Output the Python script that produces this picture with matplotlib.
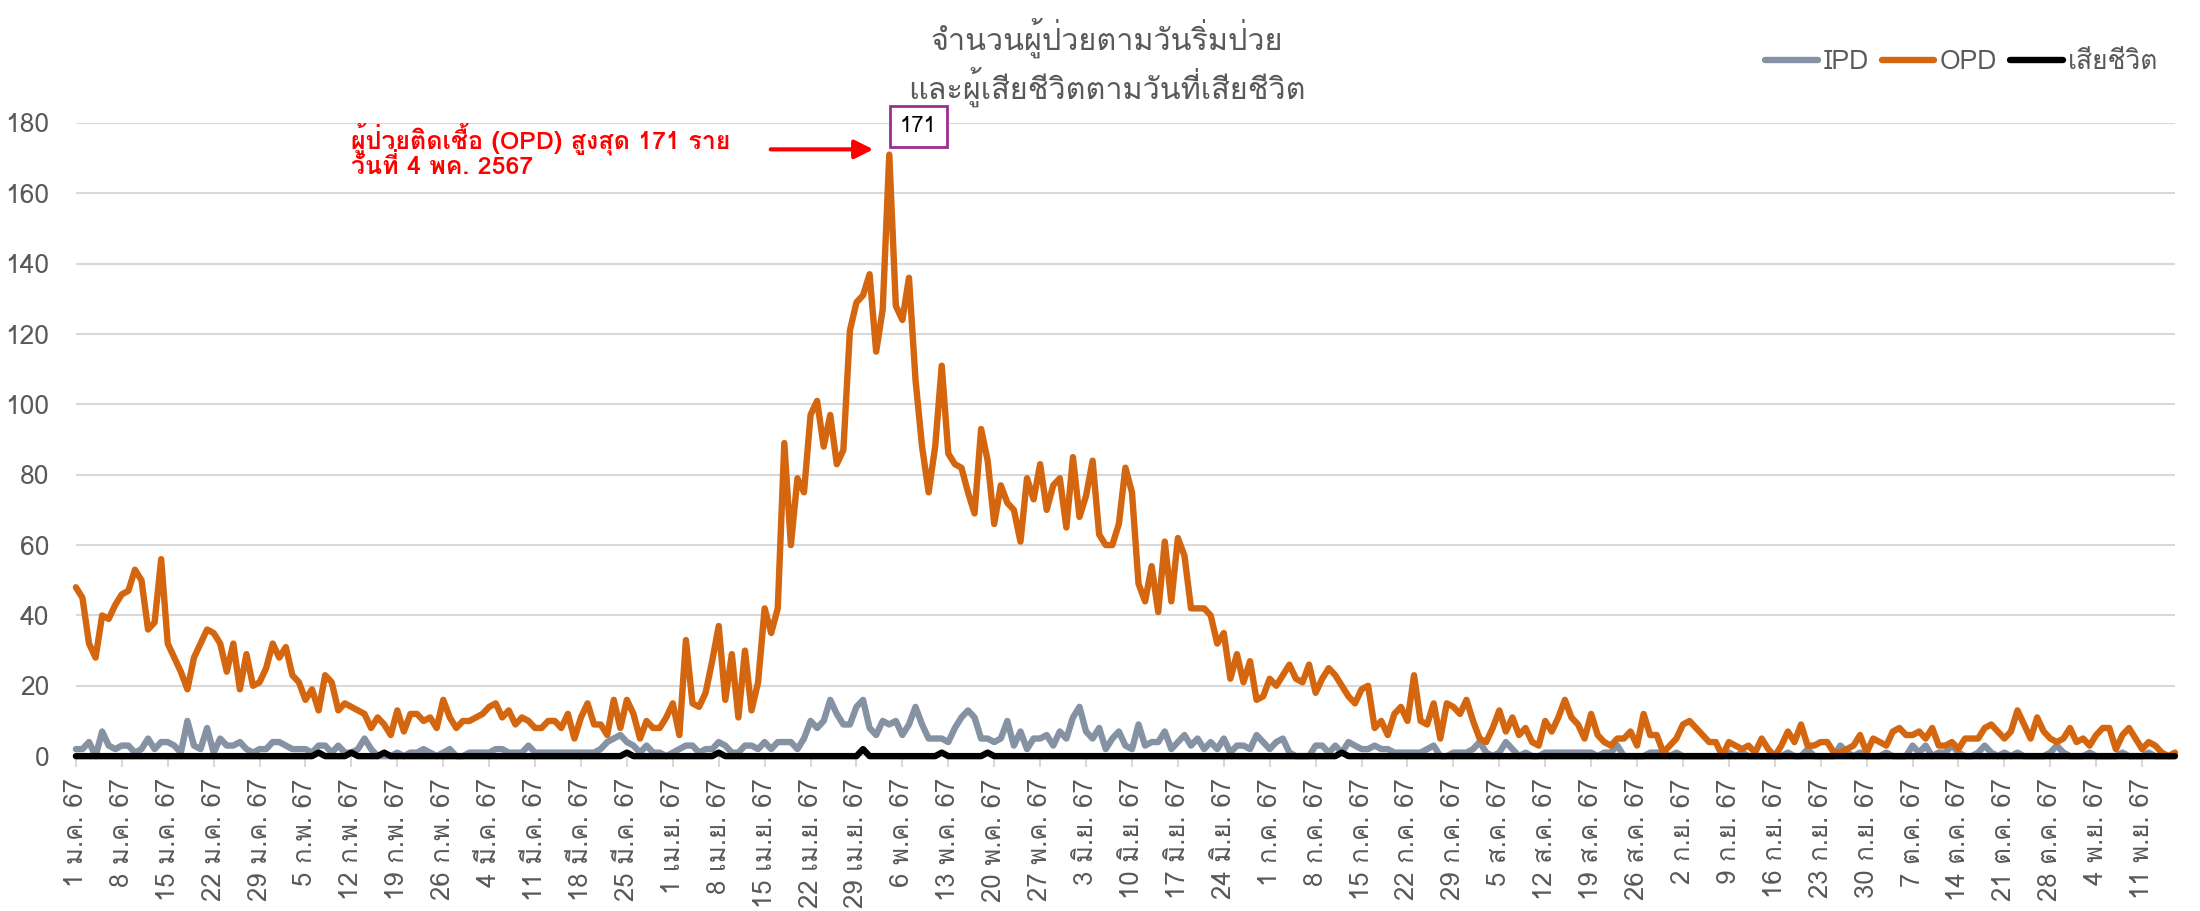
import numpy as np
import matplotlib
matplotlib.use('Agg')
import matplotlib.pyplot as plt
from matplotlib import font_manager
from matplotlib.ft2font import FT2Font

# find a font that has Thai glyphs
thai_font = None
for f in font_manager.fontManager.ttflist:
    try:
        if 0x0E01 in FT2Font(f.fname).get_charmap():
            thai_font = f.name
            if 'Sans' in f.name or 'Loma' in f.name:
                break
    except Exception:
        pass
families = [thai_font, 'DejaVu Sans'] if thai_font else ['DejaVu Sans']
plt.rcParams['font.family'] = families

# daily counts, 1 Jan 2567 - 16 Nov 2567
opd_jan = [48, 45, 32, 28, 40, 39, 43, 46, 47, 53, 50, 36, 38, 56, 32, 28, 24, 19, 28, 32, 36, 35, 32, 24, 32, 19, 29, 20, 21, 25, 32]
opd_feb = [28, 31, 23, 21, 16, 19, 13, 23, 21, 13, 15, 14, 13, 12, 8, 11, 9, 6, 13, 7, 12, 12, 10, 11, 8, 16, 11, 8, 10]
opd_mar = [10, 11, 12, 14, 15, 11, 13, 9, 11, 10, 8, 8, 10, 10, 8, 12, 5, 11, 15, 9, 9, 6, 16, 8, 16, 12, 5, 10, 8, 8, 11]
opd_apr = [15, 6, 33, 15, 14, 18, 27, 37, 16, 29, 11, 30, 13, 21, 42, 35, 42, 89, 60, 79, 75, 97, 101, 88, 97, 83, 87, 121, 129, 131]
opd_may = [137, 115, 127, 171, 128, 124, 136, 107, 88, 75, 88, 111, 86, 83, 82, 75, 69, 93, 84, 66, 77, 72, 70, 61, 79, 73, 83, 70, 77, 79, 65]
opd_jun = [85, 68, 74, 84, 63, 60, 60, 66, 82, 75, 49, 44, 54, 41, 61, 44, 62, 57, 42, 42, 42, 40, 32, 35, 22, 29, 21, 27, 16, 17]
opd_jul = [22, 20, 23, 26, 22, 21, 26, 18, 22, 25, 23, 20, 17, 15, 19, 20, 8, 10, 6, 12, 14, 10, 23, 10, 9, 15, 5, 15, 14, 12, 16]
opd_aug = [10, 5, 4, 8, 13, 7, 11, 6, 8, 4, 3, 10, 7, 11, 16, 11, 9, 5, 12, 6, 4, 3, 5, 5, 7, 3, 12, 6, 6, 1, 3]
opd_sep = [5, 9, 10, 8, 6, 4, 4, 0, 4, 3, 2, 3, 1, 5, 2, 0, 3, 7, 4, 9, 3, 3, 4, 4, 1, 1, 2, 3, 6, 1]
opd_oct = [5, 4, 3, 7, 8, 6, 6, 7, 5, 8, 3, 3, 4, 2, 5, 5, 5, 8, 9, 7, 5, 7, 13, 9, 5, 11, 7, 5, 4, 5, 8]
opd_nov = [4, 5, 3, 6, 8, 8, 2, 6, 8, 5, 2, 4, 3, 1, 0, 1]

ipd_jan = [2, 2, 4, 0, 7, 3, 2, 3, 3, 1, 2, 5, 2, 4, 4, 3, 1, 10, 3, 2, 8, 1, 5, 3, 3, 4, 2, 1, 2, 2, 4]
ipd_feb = [4, 3, 2, 2, 2, 1, 3, 3, 1, 3, 1, 1, 2, 5, 2, 0, 0, 0, 1, 0, 1, 1, 2, 1, 0, 1, 2, 0, 0]
ipd_mar = [1, 1, 1, 1, 2, 2, 1, 1, 1, 3, 1, 1, 1, 1, 1, 1, 1, 1, 1, 1, 2, 4, 5, 6, 4, 3, 1, 3, 1, 1, 0]
ipd_apr = [1, 2, 3, 3, 1, 2, 2, 4, 3, 1, 1, 3, 3, 2, 4, 2, 4, 4, 4, 2, 5, 10, 8, 10, 16, 12, 9, 9, 14, 16]
ipd_may = [8, 6, 10, 9, 10, 6, 9, 14, 9, 5, 5, 5, 4, 8, 11, 13, 11, 5, 5, 4, 5, 10, 3, 7, 2, 5, 5, 6, 3, 7, 5]
ipd_jun = [11, 14, 7, 5, 8, 2, 5, 7, 3, 2, 9, 3, 4, 4, 7, 2, 4, 6, 3, 5, 2, 4, 2, 5, 1, 3, 3, 2, 6, 4]
ipd_jul = [2, 4, 5, 1, 0, 0, 0, 3, 3, 1, 3, 1, 4, 3, 2, 2, 3, 2, 2, 1, 1, 1, 1, 1, 2, 3, 0, 0, 1, 1, 1]
ipd_aug = [2, 4, 1, 0, 1, 4, 2, 0, 1, 0, 0, 1, 1, 1, 1, 1, 1, 1, 1, 0, 1, 1, 3, 0, 0, 0, 0, 1, 1, 1, 0]
ipd_sep = [1, 0, 0, 0, 0, 0, 0, 0, 1, 0, 1, 0, 0, 0, 0, 0, 0, 1, 0, 0, 2, 0, 0, 0, 0, 3, 1, 0, 1, 0]
ipd_oct = [0, 0, 1, 0, 0, 0, 3, 1, 3, 0, 1, 1, 3, 1, 0, 0, 1, 3, 1, 0, 1, 0, 1, 0, 0, 0, 0, 1, 3, 1, 0]
ipd_nov = [0, 0, 1, 0, 0, 0, 0, 1, 0, 0, 0, 1, 0, 0, 0, 0]

# deaths: day index (from 1 Jan) and count, all other days 0
death_day = [37, 42, 47, 84, 98, 120, 132, 139, 193]
death_count = [1, 1, 1, 1, 1, 2, 1, 1, 1]

tick_labels = ['1 ม.ค. 67', '8 ม.ค. 67', '15 ม.ค. 67', '22 ม.ค. 67', '29 ม.ค. 67',
               '5 ก.พ. 67', '12 ก.พ. 67', '19 ก.พ. 67', '26 ก.พ. 67',
               '4 มี.ค. 67', '11 มี.ค. 67', '18 มี.ค. 67', '25 มี.ค. 67',
               '1 เม.ย. 67', '8 เม.ย. 67', '15 เม.ย. 67', '22 เม.ย. 67', '29 เม.ย. 67',
               '6 พ.ค. 67', '13 พ.ค. 67', '20 พ.ค. 67', '27 พ.ค. 67',
               '3 มิ.ย. 67', '10 มิ.ย. 67', '17 มิ.ย. 67', '24 มิ.ย. 67',
               '1 ก.ค. 67', '8 ก.ค. 67', '15 ก.ค. 67', '22 ก.ค. 67', '29 ก.ค. 67',
               '5 ส.ค. 67', '12 ส.ค. 67', '19 ส.ค. 67', '26 ส.ค. 67',
               '2 ก.ย. 67', '9 ก.ย. 67', '16 ก.ย. 67', '23 ก.ย. 67', '30 ก.ย. 67',
               '7 ต.ค. 67', '14 ต.ค. 67', '21 ต.ค. 67', '28 ต.ค. 67',
               '4 พ.ย. 67', '11 พ.ย. 67']

opd = opd_jan + opd_feb + opd_mar + opd_apr + opd_may + opd_jun + opd_jul + opd_aug + opd_sep + opd_oct + opd_nov
ipd = ipd_jan + ipd_feb + ipd_mar + ipd_apr + ipd_may + ipd_jun + ipd_jul + ipd_aug + ipd_sep + ipd_oct + ipd_nov
days = np.arange(len(opd))
deaths = np.zeros(len(opd))
deaths[death_day] = death_count

grey_text = '#595959'
fig = plt.figure(figsize=(22, 9.11), dpi=100)
ax = fig.add_axes([0.0345, 0.170, 0.9541, 0.695])

line_kw = dict(lw=4.6, solid_joinstyle='round', solid_capstyle='round', clip_on=False)
ax.plot(days, ipd, color='#8592A3', label='IPD', **line_kw)
ax.plot(days, opd, color='#D4660F', label='OPD', **line_kw)
ax.plot(days, deaths, color='black', label='เสียชีวิต', **line_kw)

ax.set_xlim(0, len(opd) - 1)
ax.set_ylim(0, 180)
ax.set_yticks(range(0, 181, 20))
ax.grid(axis='y', color='#D9D9D9', lw=1.5)
ax.set_axisbelow(True)
for s in ax.spines.values():
    s.set_visible(False)
ax.tick_params(axis='y', length=0, pad=19, labelsize=19, labelcolor=grey_text)
ax.set_xticks(days[::7])
ax.set_xticklabels(tick_labels, rotation=90, fontsize=18.5, color=grey_text)
ax.tick_params(axis='x', length=8, width=1.5, color='#D9D9D9', pad=8)

# peak annotation
peak = int(np.argmax(opd))
ax.annotate(str(opd[peak]), xy=(peak, opd[peak]), xytext=(21, 20), textcoords='offset points',
            ha='center', va='center', fontsize=16, color='black',
            bbox=dict(boxstyle='square,pad=0.45', fc='white', ec='#9B2F8F', lw=2), annotation_clip=False)
ax.annotate('', xy=(peak - 2, 172.5), xytext=(peak - 18.5, 172.5),
            arrowprops=dict(arrowstyle='-|>', color='red', lw=3, mutation_scale=28), annotation_clip=False)
ax.text(42, 175.5, 'ผู้ป่วยติดเชื้อ (OPD) สูงสุด 171 ราย', color='red', fontsize=18, fontweight='bold', va='center')
ax.text(42, 167.5, 'วันที่ 4 พค. 2567', color='red', fontsize=18, fontweight='bold', va='center')

fig.text(0.503, 0.958, 'จำนวนผู้ป่วยตามวันริ่มป่วย', ha='center', va='center', fontsize=22, color=grey_text)
fig.text(0.503, 0.905, 'และผู้เสียชีวิตตามวันที่เสียชีวิต', ha='center', va='center', fontsize=22, color=grey_text)

fig.legend(loc='center right', bbox_to_anchor=(0.992, 0.932), ncol=3, frameon=False, fontsize=19,
           handlelength=2.0, handletextpad=0.2, columnspacing=0.5, labelcolor=grey_text)

fig.savefig('out.png', dpi=100)
